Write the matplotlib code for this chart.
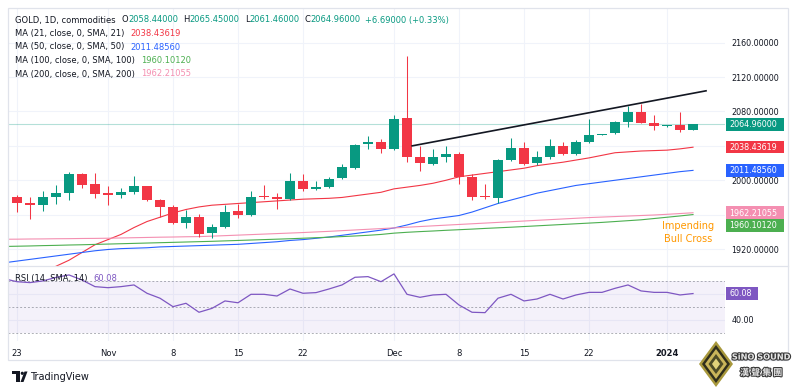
import matplotlib
matplotlib.use('Agg')
import matplotlib.pyplot as plt
import matplotlib.transforms as mtransforms
import matplotlib.patheffects as pe
from matplotlib.patches import Rectangle, Polygon, Circle
from matplotlib.lines import Line2D

W, H = 796, 389

# daily candles, Oct 20 2023 -> Jan 3 2024 (weekdays)
opens = [1974, 1981, 1973, 1971, 1980, 1985, 2007, 1996, 1985, 1983,
         1986, 1993, 1977, 1969, 1950, 1957, 1939, 1946, 1964, 1960,
         1982, 1981, 1978, 1999, 1990, 1992, 2003, 2014, 2042, 2045,
         2036, 2072, 2027, 2019, 2027, 2030, 2004, 1982, 1979, 2024,
         2037, 2020, 2027, 2040, 2030, 2044, 2053, 2055, 2068, 2079,
         2067, 2063, 2064, 2058.44]
highs = [1983, 1983, 1981, 1988, 1994, 2010, 2008, 2009, 1993, 1991,
         2005, 1993, 1978, 1971, 1965, 1961, 1949, 1971, 1972, 1988,
         1994, 1985, 2008, 2007, 1999, 2004, 2019, 2042, 2052, 2048,
         2076, 2145, 2040, 2036, 2040, 2033, 2007, 1996, 2025, 2049,
         2045, 2034, 2048, 2044, 2047, 2071, 2054, 2069, 2086, 2089,
         2076, 2064, 2079, 2065.45]
lows = [1972, 1963, 1955, 1964, 1972, 1977, 1991, 1979, 1971, 1979,
        1984, 1976, 1957, 1949, 1945, 1934, 1933, 1945, 1956, 1958,
        1978, 1966, 1977, 1987, 1989, 1991, 2001, 2013, 2036, 2032,
        2035, 2021, 2011, 2018, 2021, 1996, 1977, 1978, 1973, 2022,
        2018, 2018, 2025, 2029, 2029, 2043, 2053, 2054, 2062, 2066,
        2058, 2062, 2056, 2058]
closes = [1981, 1973, 1971, 1980, 1985, 2007, 1995, 1984, 1983, 1986,
          1993, 1977, 1969, 1950, 1957, 1937, 1946, 1963, 1960, 1981,
          1981, 1978, 1999, 1990, 1992, 2002, 2015, 2041, 2045, 2036,
          2071, 2027, 2020, 2027, 2030, 2004, 1981, 1980, 2024, 2037,
          2019, 2027, 2040, 2030, 2045, 2053, 2054, 2068, 2079, 2067,
          2063, 2063.5, 2058, 2064.96]

ma21 = [1872, 1879, 1886, 1893, 1900, 1907, 1916, 1925, 1931, 1937,
        1945, 1952, 1957, 1962, 1966, 1969, 1971, 1972, 1973, 1974,
        1975, 1976, 1977, 1978, 1978.5, 1979, 1980, 1982, 1984, 1986,
        1990, 1992, 1994, 1996.5, 2000, 2004, 2006, 2008, 2010, 2012,
        2014, 2017, 2019, 2021, 2023.5, 2026, 2029, 2032, 2033, 2034,
        2034.5, 2035, 2036.5, 2038.44]
ma50 = [1904, 1906, 1908, 1910, 1912, 1914, 1916, 1918, 1919.5, 1920.5,
        1921, 1921.5, 1922.5, 1923, 1923.5, 1924, 1924.5, 1925, 1925.5, 1926.5,
        1927.5, 1928.5, 1930, 1931, 1932.5, 1934, 1936, 1938, 1940, 1942,
        1944.5, 1948, 1952, 1955, 1957, 1959, 1963, 1968, 1973, 1977,
        1981, 1985, 1988, 1991, 1994, 1996, 1998, 2000, 2002, 2004,
        2006, 2008, 2010, 2011.49]
ma100 = [1923, 1923.3, 1923.6, 1924, 1924.3, 1924.7, 1925, 1925.4, 1925.8, 1926.2,
         1926.6, 1927, 1927.4, 1927.8, 1928.2, 1928.6, 1929, 1929.5, 1930, 1930.5,
         1931, 1931.5, 1932, 1932.6, 1933.2, 1933.8, 1934.5, 1935.2, 1936, 1937,
         1938.5, 1939.5, 1940.3, 1941, 1941.8, 1942.5, 1943.2, 1944, 1944.7, 1945.4,
         1946.2, 1947, 1947.8, 1948.6, 1949.4, 1950.2, 1951, 1952, 1953, 1954,
         1955.5, 1957, 1958.5, 1960.1]
ma200 = [1931.4, 1931.5, 1931.7, 1931.8, 1932, 1932.1, 1932.3, 1932.4, 1932.6, 1932.9,
         1933.2, 1933.5, 1933.8, 1934, 1934.3, 1934.5, 1935, 1935.6, 1936.2, 1936.8,
         1937.4, 1938, 1938.6, 1939.2, 1939.9, 1940.6, 1941.4, 1942.2, 1943, 1943.8,
         1944.6, 1945.4, 1946.2, 1947, 1947.8, 1948.6, 1949.4, 1950.2, 1951, 1951.8,
         1952.6, 1953.4, 1954.2, 1955, 1955.8, 1956.6, 1957.2, 1957.8, 1958.4, 1959,
         1959.6, 1960.4, 1961.3, 1962.21]
rsi = [71.5, 69.2, 68.5, 69.8, 72.5, 74.4, 70.5, 65.4, 64.6, 65.4,
       66.7, 60.3, 56.5, 50, 52.6, 45.7, 48.7, 54.4, 53, 59.5,
       59.5, 58.2, 63.6, 60.3, 60.8, 63.6, 66.7, 72.6, 73.1, 69.2,
       75.2, 59.5, 57.2, 59, 59.5, 51.3, 45.7, 45.4, 56.5, 59.5,
       54.4, 55.9, 59.5, 55.9, 59, 61, 61, 64.1, 66.7, 62.1,
       61, 61, 59, 60.08]

date_ticks = [1, 8, 13, 18, 23, 30, 35, 40, 45, 51]
date_labels = ['23', 'Nov', '8', '15', '22', 'Dec', '8', '15', '22', '2024']
price_ticks = [1920, 1960, 2000, 2040, 2080, 2120, 2160]
hidden_ticks = [1960, 2040]  # covered by the MA value tags

trend_x = [31.4, 54.0]
trend_y = [2040, 2104]

UP, DOWN = '#089981', '#F23645'
TEXT = '#131722'
GRID = '#f0f3fa'
C21, C50, C100, C200 = '#F23645', '#2962FF', '#4CAF50', '#F48FB1'
PURPLE = '#7E57C2'

fig = plt.figure(figsize=(W / 100, H / 100), dpi=100)
# pixel coords measured from the top-left corner
T = mtransforms.Affine2D().scale(1 / W, -1 / H).translate(0, 1) + fig.transFigure


def fbox(x0, y0, x1, y1):
    return [x0 / W, 1 - y1 / H, (x1 - x0) / W, (y1 - y0) / H]


ax = fig.add_axes(fbox(8, 8, 725, 266))
ax2 = fig.add_axes(fbox(8, 267, 725, 341), sharex=ax)

x = list(range(len(closes)))

# candles
for i in x:
    o, h, l, c = opens[i], highs[i], lows[i], closes[i]
    col = UP if c >= o else DOWN
    ax.vlines(i, l, h, color=col, lw=0.75, zorder=3)
    body = max(abs(c - o), 1.1)
    ax.bar(i, body, bottom=min(o, c), width=0.76, color=col, lw=0, zorder=4)

ax.plot(x, ma21, color=C21, lw=0.8, zorder=2)
ax.plot(x, ma50, color=C50, lw=0.8, zorder=2)
ax.plot(x, ma100, color=C100, lw=0.8, zorder=2)
ax.plot(x, ma200, color=C200, lw=0.8, zorder=2)
ax.plot(trend_x, trend_y, color=TEXT, lw=1.2, zorder=5)
ax.axhline(closes[-1], color=UP, lw=0.8, alpha=0.3, zorder=1)

ax.set_xlim(0.31, 55.46)
ax.set_ylim(1900.3, 2200.3)
ax.set_yticks(price_ticks)
ax.set_yticklabels(['' if v in hidden_ticks else f'{v:.5f}' for v in price_ticks])
ax.yaxis.tick_right()
ax.tick_params(axis='y', labelsize=5.8, labelcolor=TEXT, pad=4.5, length=0)
ax.tick_params(axis='x', labelbottom=False, length=0)
ax.grid(True, color=GRID, lw=0.8)
ax.set_axisbelow(True)

# RSI pane
ax2.axhspan(30, 70, color=PURPLE, alpha=0.08, lw=0)
for lvl in (30, 50, 70):
    ax2.axhline(lvl, color='#787B86', lw=0.7, ls=(0, (2, 2)), alpha=0.6)
ax2.plot(x, rsi, color=PURPLE, lw=0.9)
ax2.set_ylim(23.6, 80.5)
ax2.set_yticks([40, 60])
ax2.set_yticklabels(['40.00', ''])
ax2.yaxis.tick_right()
ax2.tick_params(axis='y', labelsize=5.8, labelcolor=TEXT, pad=4.5, length=0)
ax2.set_xticks(date_ticks)
ax2.set_xticklabels(date_labels)
ax2.tick_params(axis='x', labelsize=6, labelcolor=TEXT, pad=6, length=0)
for lab in ax2.get_xticklabels():
    if lab.get_text() == '2024':
        lab.set_fontweight('bold')
ax2.grid(True, color=GRID, lw=0.8)
ax2.set_axisbelow(True)

for a in (ax, ax2):
    for s in a.spines.values():
        s.set_visible(False)

# frame and pane separator
fig.patches.append(Rectangle((7.5, 7.5), 780, 353, transform=T, fill=False,
                             ec='#e0e3eb', lw=0.9))
fig.lines.append(Line2D([7.5, 787.5], [266.5, 266.5], transform=T, color='#e0e3eb', lw=0.9))


def tag(a, value, text, color, shift=0.0, width=58):
    yp = H - a.transData.transform((0, value))[1] + shift
    fig.patches.append(Rectangle((726, yp - 6.3), width, 12.6, transform=T,
                                 fc=color, ec='none', zorder=2))
    fig.text(729, yp + 0.3, text, transform=T, fontsize=5.8, color='white',
             ha='left', va='center', zorder=4)


tag(ax, closes[-1], '2064.96000', UP)
tag(ax, ma21[-1], '2038.43619', C21)
tag(ax, ma50[-1], '2011.48560', C50)
tag(ax, ma200[-1], '1962.21055', C200)
tag(ax, ma100[-1], '1960.10120', C100, shift=11)
tag(ax2, rsi[-1], '60.08', PURPLE, width=32)

# legend lines
renderer = fig.canvas.get_renderer()


def chain(x0, y0, parts, fs=6.0):
    xx = x0
    for s, c, gap in parts:
        t = fig.text(xx, y0, s, transform=T, fontsize=fs, color=c, ha='left', va='center')
        xx += t.get_window_extent(renderer).width + gap


chain(15, 20, [('GOLD, 1D, commodities', TEXT, 6), ('O', TEXT, 0), ('2058.44000', UP, 5),
               ('H', TEXT, 0), ('2065.45000', UP, 5), ('L', TEXT, 0), ('2061.46000', UP, 5),
               ('C', TEXT, 0), ('2064.96000', UP, 5), ('+6.69000 (+0.33%)', UP, 0)])
chain(15, 33.5, [('MA (21, close, 0, SMA, 21)', TEXT, 6), ('2038.43619', C21, 0)])
chain(15, 47, [('MA (50, close, 0, SMA, 50)', TEXT, 6), ('2011.48560', C50, 0)])
chain(15, 60.5, [('MA (100, close, 0, SMA, 100)', TEXT, 6), ('1960.10120', C100, 0)])
chain(15, 74, [('MA (200, close, 0, SMA, 200)', TEXT, 6), ('1962.21055', C200, 0)])
chain(15, 279, [('RSI (14, SMA, 14)', TEXT, 6), ('60.08', PURPLE, 0)])

fig.text(688, 232.5, 'Impending\nBull Cross', transform=T, fontsize=7, color='#FF9800',
         ha='center', va='center', linespacing=1.35, zorder=5)

# TradingView mark
fig.patches.append(Rectangle((12, 371.5), 8, 3, transform=T, fc=TEXT, ec='none'))
fig.patches.append(Rectangle((16, 371.5), 4, 10.5, transform=T, fc=TEXT, ec='none'))
fig.patches.append(Circle((22.3, 373.3), 1.6, transform=T, fc=TEXT, ec='none'))
fig.patches.append(Polygon([(20.5, 382), (24.5, 371.5), (27.5, 371.5), (23.5, 382)],
                           transform=T, fc=TEXT, ec='none'))
fig.text(30, 377, 'TradingView', transform=T, fontsize=7, color=TEXT, ha='left', va='center')

# Sino Sound watermark
cx, cy = 716, 364
for (hw, hh), col in zip([(17, 23), (14, 19), (11, 15), (7.5, 10), (4, 5.5)],
                         ['#a8983c', '#2f2e1c', '#c9b55a', '#4d4b26', '#e1d27a']):
    fig.patches.append(Polygon([(cx, cy - hh), (cx + hw, cy), (cx, cy + hh), (cx - hw, cy)],
                               transform=T, fc=col, ec='none'))
stroke = [pe.withStroke(linewidth=1.6, foreground='#3a3a3a')]
fig.text(761, 357, 'SiNO SOUND', transform=T, fontsize=5.9, fontweight='bold',
         color='#e6e6e6', ha='center', va='center', path_effects=stroke)
fig.text(761, 373, '漢 聲 集 團', transform=T, fontsize=6.5, fontweight='bold',
         color='#e6e6e6', ha='center', va='center', path_effects=stroke,
         family=['Noto Sans CJK TC', 'DejaVu Sans'])

fig.savefig('out.png', dpi=100)
